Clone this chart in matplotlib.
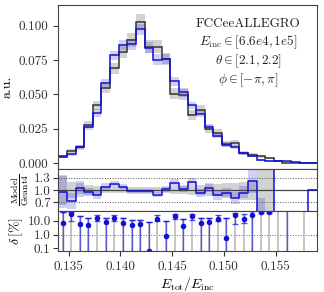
import numpy as np
import matplotlib
matplotlib.use("Agg")
from matplotlib import pyplot as plt

plt.rcParams["font.family"] = "serif"
plt.rcParams["font.serif"] = ["cmr10", "DejaVu Serif"]
plt.rcParams["mathtext.fontset"] = "cm"
plt.rcParams["axes.formatter.use_mathtext"] = True

# binning of E_tot/E_inc
x_lo, x_hi, n_bins = 0.1340, 0.1590, 30

# normalised histograms (a.u.)
geant4 = [0.0049, 0.0085, 0.0115, 0.0280, 0.0420, 0.0546, 0.0690, 0.0810, 0.0895, 0.1030,
          0.0850, 0.0850, 0.0760, 0.0505, 0.0498, 0.0350, 0.0390, 0.0250, 0.0220, 0.0140,
          0.0145, 0.0076, 0.0060, 0.0048, 0.0036, 0.0015, 0.0, 0.0, 0.0, 0.0]
model = [0.0045, 0.0064, 0.0115, 0.0265, 0.0365, 0.0585, 0.0785, 0.0860, 0.0865, 0.0975,
         0.0840, 0.0755, 0.0760, 0.0595, 0.0515, 0.0420, 0.0360, 0.0265, 0.0200, 0.0135,
         0.0118, 0.0070, 0.0055, 0.0020, 0.0015, 0.0017, 0.0012, 0.0007, 0.0004, 0.0]
geant4_err = [0.0012, 0.0015, 0.0018, 0.0025, 0.0030, 0.0035, 0.0040, 0.0045, 0.0050, 0.0055,
              0.0050, 0.0050, 0.0045, 0.0040, 0.0040, 0.0035, 0.0035, 0.0030, 0.0028, 0.0022,
              0.0022, 0.0015, 0.0013, 0.0012, 0.0010, 0.0005, 0.0, 0.0, 0.0, 0.0]
model_err = [0.0010, 0.0012, 0.0015, 0.0022, 0.0026, 0.0030, 0.0035, 0.0038, 0.0040, 0.0042,
             0.0040, 0.0038, 0.0035, 0.0032, 0.0030, 0.0028, 0.0026, 0.0022, 0.0020, 0.0016,
             0.0015, 0.0012, 0.0010, 0.0008, 0.0007, 0.0006, 0.0005, 0.0004, 0.0003, 0.0]

# ratio Model/Geant4 and its bands
ratio = [0.96, 0.73, 1.06, 0.96, 0.88, 1.08, 1.14, 1.08, 0.97, 0.97,
         0.97, 0.89, 1.03, 1.18, 1.03, 1.20, 0.93, 1.06, 0.89, 0.93,
         0.81, 0.93, 1.22, 0.35, 0.35, 5.0, np.nan, np.nan, 0.0, 1.0]
ratio_g4_band = [0.35, 0.20, 0.17, 0.12, 0.10, 0.08, 0.07, 0.07, 0.07, 0.07,
                 0.07, 0.07, 0.08, 0.10, 0.10, 0.12, 0.12, 0.14, 0.15, 0.17,
                 0.18, 0.20, 0.25, 1.0, 1.0, 1.0, np.nan, np.nan, np.nan, np.nan]
ratio_model_band = [0.40, 0.20, 0.15, 0.10, 0.09, 0.08, 0.07, 0.06, 0.06, 0.06,
                    0.06, 0.06, 0.07, 0.08, 0.08, 0.09, 0.10, 0.11, 0.12, 0.13,
                    0.14, 0.16, 0.28, 0.45, 0.45, np.nan, np.nan, np.nan, np.nan, np.nan]

# delta [%] with upper / lower error ends (0 = runs to the axis bottom)
delta = [6.8, 30, 6.0, 5.1, 16, 7.6, 16, 6.8, 5.1, 6.0,
         0.07, 14, 0.74, 21, 3.9, 21, 6.8, 7.6, 13, 0.56,
         25, 13, 27, 43, 46, 100, 100, np.nan, 100, np.nan]
delta_hi = [40, 42, 23, 16, 25, 16, 25, 16, 12, 12,
            8.1, 25, 9, 30, 13, 30, 16, 17, 27, 17,
            36, 30, 48, 50, 52, 100, 100, np.nan, 100, np.nan]
delta_lo = [0, 10, 0, 0, 10, 0, 10, 0, 0, 0,
            0, 9, 0, 14, 0, 11, 0, 0, 9, 0,
            5.8, 6.8, 0, 36, 38, 80, 0, np.nan, 80, np.nan]

edges = np.linspace(x_lo, x_hi, n_bins + 1)
centers = 0.5 * (edges[1:] + edges[:-1])
geant4 = np.array(geant4)
model = np.array(model)
geant4_err = np.array(geant4_err)
model_err = np.array(model_err)
ratio = np.array(ratio)
ratio_g4_band = np.array(ratio_g4_band)
ratio_model_band = np.array(ratio_model_band)
delta = np.array(delta)
delta_hi = np.array(delta_hi)
delta_lo = np.array(delta_lo)

blue = "#1010d8"
black = "#333333"

def ext(a):
    return np.append(a, a[-1])

fig = plt.figure(figsize=(3.24, 2.92), dpi=100)
ax1 = fig.add_axes([0.180, 0.420, 0.798, 0.563])
ax2 = fig.add_axes([0.180, 0.2784, 0.798, 0.1416], sharex=ax1)
ax3 = fig.add_axes([0.180, 0.1414, 0.798, 0.137], sharex=ax1)

# top panel
ax1.fill_between(edges, ext(geant4 - geant4_err), ext(geant4 + geant4_err),
                 step="post", color="grey", alpha=0.35, lw=0)
ax1.fill_between(edges, ext(model - model_err), ext(model + model_err),
                 step="post", color=blue, alpha=0.2, lw=0)
ax1.stairs(geant4, edges, color=black, lw=1.1)
ax1.stairs(model, edges, color=blue, lw=1.1)
ax1.set_ylim(-0.0046, 0.1153)
ax1.set_xlim(x_lo, x_hi)
ax1.set_yticks([0.0, 0.025, 0.05, 0.075, 0.1])
ax1.set_yticklabels(["0.000", "0.025", "0.050", "0.075", "0.100"])
ax1.set_ylabel("a.u.", fontsize=10, labelpad=4)
ax1.tick_params(axis="x", bottom=False, labelbottom=False)
ax1.tick_params(axis="y", labelsize=9.5)
txt = ["FCCeeALLEGRO", r"$E_{\rm inc}\in[6.6e4, 1e5]$",
       r"$\theta\in[2.1, 2.2]$", r"$\phi\in[-\pi, \pi]$"]
for i, t in enumerate(txt):
    ax1.text(0.735, 0.885 - i * 0.114, t, transform=ax1.transAxes,
             ha="center", va="center", fontsize=9.5, color="#222222")

# ratio panel
ax2.fill_between(edges, ext(1 - ratio_g4_band), ext(1 + ratio_g4_band),
                 step="post", color="grey", alpha=0.35, lw=0)
ax2.fill_between(edges, ext(ratio - ratio_model_band), ext(ratio + ratio_model_band),
                 step="post", color=blue, alpha=0.2, lw=0)
ax2.axhline(1.0, color="#444444", lw=0.9)
ax2.axhline(1.3, color="#555555", lw=0.7, ls=":")
ax2.axhline(0.7, color="#555555", lw=0.7, ls=":")
ax2.step(edges, ext(ratio), where="post", color=blue, lw=1.1)
ax2.set_ylim(0.5, 1.5)
ax2.set_yticks([0.7, 1.0, 1.3])
ax2.set_yticklabels(["0.7", "1.0", "1.3"])
ax2.tick_params(axis="y", labelsize=9.5, pad=2)
ax2.tick_params(axis="x", bottom=False, labelbottom=False)
ax2.set_ylabel(r"$\frac{\rm Model}{\rm Geant4}$", fontsize=10, labelpad=2)

# delta panel
ax3.set_yscale("log")
ax3.set_ylim(0.068, 53)
ax3.axhline(1.0, color="#666666", lw=0.7, ls=":")
ok = ~np.isnan(delta)
ax3.vlines(centers[ok], 1e-3, delta_hi[ok], color="#bbbbbb", lw=1.2)
lo_end = np.where(delta_lo > 0, delta_lo, 1e-3)
ax3.vlines(centers[ok], lo_end[ok], delta_hi[ok], color=blue, alpha=0.6, lw=1.0)
capped = ok & (delta_lo > 0)
ax3.errorbar(centers[capped], delta[capped],
             yerr=[delta[capped] - delta_lo[capped], delta_hi[capped] - delta[capped]],
             fmt="none", ecolor=blue, alpha=0.7, capsize=2, elinewidth=0, capthick=1)
top_cap = ok & (delta_lo == 0)
ax3.errorbar(centers[top_cap], delta_hi[top_cap], yerr=[[0] * top_cap.sum(), [0] * top_cap.sum()],
             fmt="none", ecolor=blue, alpha=0.7, capsize=2, elinewidth=0, capthick=1)
ax3.plot(centers[ok], delta[ok], "o", color=blue, ms=3)
ax3.set_yticks([0.1, 1.0, 10.0])
ax3.set_yticklabels(["0.1", "1.0", "10.0"])
ax3.minorticks_off()
ax3.tick_params(axis="y", labelsize=9.5, pad=2)
ax3.tick_params(axis="x", labelsize=9.5)
ax3.set_xticks([0.135, 0.140, 0.145, 0.150, 0.155])
ax3.set_xticklabels(["0.135", "0.140", "0.145", "0.150", "0.155"])
ax3.set_xlim(x_lo, x_hi)
ax3.set_ylabel(r"$\delta\,[\%]$", fontsize=10, labelpad=2)
ax3.set_xlabel(r"$E_{\rm tot}/E_{\rm inc}$", fontsize=10, labelpad=2)

for ax in (ax1, ax2, ax3):
    for s in ax.spines.values():
        s.set_color("#444444")
    ax.tick_params(colors="#333333")

fig.align_ylabels([ax1, ax2, ax3])
fig.savefig("out.png", dpi=100)
